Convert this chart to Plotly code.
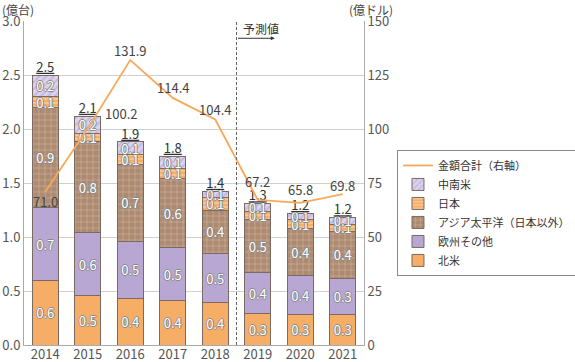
import plotly.graph_objects as go

years = ["2014", "2015", "2016", "2017", "2018", "2019", "2020", "2021"]
north_america = [0.60, 0.46, 0.43, 0.41, 0.39, 0.29, 0.28, 0.28]
europe_other = [0.67, 0.58, 0.53, 0.49, 0.46, 0.38, 0.36, 0.34]
asia_pacific = [0.93, 0.84, 0.71, 0.64, 0.40, 0.49, 0.44, 0.43]
japan = [0.10, 0.08, 0.09, 0.09, 0.12, 0.08, 0.08, 0.07]
latin_america = [0.20, 0.16, 0.12, 0.12, 0.055, 0.07, 0.06, 0.06]
totals_label = [2.5, 2.1, 1.9, 1.8, 1.4, 1.3, 1.2, 1.2]
amount_total = [71.0, 100.2, 131.9, 114.4, 104.4, 67.2, 65.8, 69.8]

# label offsets (pixels) for the line values
label_dx = [0, 33, 0, 0, 0, 0, 0, 0]
label_dy = [-10, 15, 10, 10, 10, 18, 13, 9]

FONT = "Noto Sans CJK JP"
OUTLINE = "1px 0 0 #8a8a8a, -1px 0 0 #8a8a8a, 0 1px 0 #8a8a8a, 0 -1px 0 #8a8a8a"
seg_font = dict(family=FONT, size=13, color="white", shadow=OUTLINE)
edge = dict(color="#7a6a62", width=1)

stack_tops = [sum(v) for v in zip(north_america, europe_other, asia_pacific, japan, latin_america)]

fig = go.Figure()

def add_bar(name, vals, color, pattern=None):
    marker = dict(color=color, line=edge)
    if pattern:
        marker["pattern"] = pattern
    fig.add_trace(go.Bar(
        x=years, y=vals, name=name, marker=marker,
        texttemplate="%{y:.1f}", textposition="inside", insidetextanchor="middle",
        textangle=0, textfont=seg_font, hoverinfo="skip", cliponaxis=False,
    ))

add_bar("北米", north_america, "#F6AD66")
add_bar("欧州その他", europe_other, "#B8A7D3")
add_bar("アジア太平洋（日本以外）", asia_pacific, "#AD8A70",
        dict(shape="+", fgcolor="rgba(255,255,255,0.85)", size=6, solidity=0.16))
add_bar("日本", japan, "#F6AD66",
        dict(shape="-", fgcolor="rgba(255,255,255,0.9)", size=4, solidity=0.3))
add_bar("中南米", latin_america, "#DCD3EE",
        dict(shape="/", fgcolor="#A998CF", size=5, solidity=0.35))

# totals above the stacks
fig.add_trace(go.Scatter(
    x=years, y=stack_tops, mode="text",
    text=[f"{t:.1f}" for t in totals_label], textposition="top center",
    textfont=dict(family=FONT, size=13, color="#333333", lineposition="under"),
    showlegend=False, hoverinfo="skip", cliponaxis=False,
))

fig.add_trace(go.Scatter(
    x=years, y=amount_total, name="金額合計（右軸）", yaxis="y2",
    mode="lines", line=dict(color="#F7A95A", width=1.8),
    hoverinfo="skip", cliponaxis=False,
))
for i, (v, dx, dy) in enumerate(zip(amount_total, label_dx, label_dy)):
    fig.add_annotation(xref="x", yref="y2", x=i, y=v, text=f"{v:.1f}",
                       showarrow=False, xshift=dx, yshift=dy,
                       xanchor="center", yanchor="middle",
                       font=dict(family=FONT, size=13, color="#444444"))

fig.add_shape(type="line", xref="x", yref="paper", x0=4.5, x1=4.5, y0=0, y1=1,
              line=dict(color="#666666", width=1, dash="3px,2px"))
fig.add_annotation(xref="x", yref="y", x=5.4, y=2.84, ax=4.5, ay=2.84,
                   axref="x", ayref="y", text="", showarrow=True,
                   arrowhead=2, arrowsize=0.8, arrowwidth=1, arrowcolor="#333333")
fig.add_annotation(xref="x", yref="y", x=4.6, y=2.84, text="予測値", showarrow=False,
                   xanchor="left", yanchor="bottom", yshift=-1,
                   font=dict(family=FONT, size=12, color="#333333"))

fig.add_annotation(xref="paper", yref="paper", x=-0.072, y=1.036, text="(億台)",
                   showarrow=False, xanchor="left", yanchor="middle",
                   font=dict(family=FONT, size=12, color="#444444"))
fig.add_annotation(xref="paper", yref="paper", x=0.95, y=1.036, text="(億ドル)",
                   showarrow=False, xanchor="left", yanchor="middle",
                   font=dict(family=FONT, size=12, color="#444444"))

fig.update_layout(
    width=575, height=362,
    margin=dict(l=24, r=211, t=21, b=17, autoexpand=False),
    barmode="stack", bargap=0.39,
    plot_bgcolor="white", paper_bgcolor="white",
    font=dict(family=FONT, size=13, color="#555555"),
    uniformtext=dict(minsize=13, mode="show"),
    showlegend=True,
    legend=dict(x=1.097, y=0.602, xanchor="left", yanchor="top",
                traceorder="reversed", bgcolor="white", bordercolor="#888888",
                borderwidth=1, font=dict(family=FONT, size=11, color="#333333"),
                tracegroupgap=0, itemwidth=30),
    xaxis=dict(type="category", showline=True, linecolor="#aaaaaa", ticks="",
               showgrid=False, tickfont=dict(size=13, color="#555555"),
               ticklabelstandoff=-3, fixedrange=True, automargin=False),
    yaxis=dict(range=[0, 3.0], dtick=0.5, tickformat=".1f", showgrid=True,
               gridcolor="#d0d0d0", showline=True, linecolor="#aaaaaa",
               zeroline=False, ticks="", tickfont=dict(size=13, color="#555555"),
               automargin=False),
    yaxis2=dict(range=[0, 150], dtick=25, overlaying="y", side="right",
                showgrid=False, showline=True, linecolor="#aaaaaa",
                zeroline=False, ticks="", tickfont=dict(size=13, color="#555555"),
                automargin=False),
)

fig.write_html("out.html", config={"displayModeBar": False},
               post_script="document.body.style.margin='0';document.body.style.overflow='hidden';")
